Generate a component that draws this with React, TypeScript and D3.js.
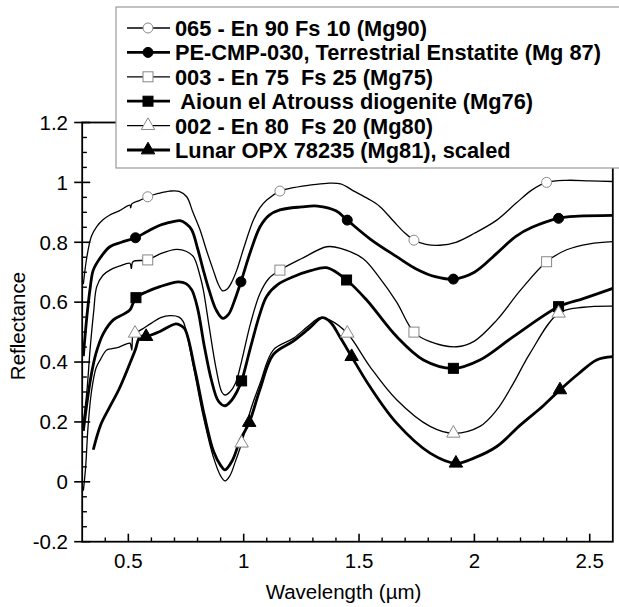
import React from "react";
import * as d3 from "d3";

// ---------- data (wavelength µm, reflectance) ----------
const s065: [number, number][] = [
  [0.305, 0.66], [0.32, 0.75], [0.34, 0.82], [0.363, 0.852], [0.39, 0.875], [0.42, 0.891], [0.46, 0.905],
  [0.507, 0.924], [0.51, 0.915], [0.515, 0.928], [0.55, 0.94], [0.584, 0.952], [0.63, 0.963], [0.68, 0.971],
  [0.72, 0.97], [0.753, 0.952], [0.78, 0.9], [0.811, 0.841], [0.84, 0.77], [0.868, 0.707], [0.89, 0.66],
  [0.909, 0.638], [0.93, 0.645], [0.95, 0.67], [0.97, 0.707], [1.0, 0.78], [1.042, 0.874], [1.07, 0.915],
  [1.1, 0.941], [1.157, 0.971], [1.2, 0.98], [1.28, 0.99], [1.36, 0.997], [1.42, 0.995], [1.48, 0.97],
  [1.54, 0.945], [1.591, 0.919], [1.65, 0.87], [1.7, 0.83], [1.738, 0.807], [1.79, 0.793], [1.851, 0.79],
  [1.92, 0.8], [2.0, 0.83], [2.097, 0.874], [2.18, 0.93], [2.25, 0.975], [2.313, 1.0], [2.4, 1.007],
  [2.5, 1.005], [2.6, 1.003],
];
const sPE: [number, number][] = [
  [0.305, 0.42], [0.32, 0.55], [0.335, 0.65], [0.348, 0.707], [0.38, 0.75], [0.42, 0.785], [0.47, 0.8],
  [0.531, 0.815], [0.58, 0.835], [0.637, 0.857], [0.69, 0.868], [0.724, 0.872], [0.75, 0.862], [0.775, 0.841],
  [0.8, 0.78], [0.825, 0.707], [0.85, 0.64], [0.88, 0.575], [0.909, 0.546], [0.935, 0.56], [0.96, 0.605],
  [0.988, 0.668], [1.03, 0.77], [1.071, 0.852], [1.11, 0.89], [1.157, 0.908], [1.25, 0.918], [1.32, 0.921],
  [1.4, 0.905], [1.449, 0.874], [1.55, 0.81], [1.663, 0.752], [1.75, 0.71], [1.83, 0.685], [1.909, 0.677],
  [2.0, 0.7], [2.097, 0.763], [2.18, 0.82], [2.25, 0.85], [2.365, 0.88], [2.45, 0.887], [2.6, 0.89],
];
const s003: [number, number][] = [
  [0.305, 0.2], [0.32, 0.3], [0.335, 0.45], [0.35, 0.57], [0.363, 0.652], [0.39, 0.69], [0.42, 0.707],
  [0.46, 0.72], [0.507, 0.73], [0.513, 0.712], [0.52, 0.735], [0.584, 0.741], [0.64, 0.762], [0.71, 0.776],
  [0.75, 0.77], [0.782, 0.752], [0.81, 0.69], [0.825, 0.641], [0.85, 0.52], [0.88, 0.38], [0.905, 0.3],
  [0.919, 0.29], [0.94, 0.3], [0.965, 0.33], [0.99, 0.4], [1.03, 0.53], [1.071, 0.63], [1.11, 0.68],
  [1.157, 0.707], [1.25, 0.745], [1.36, 0.785], [1.42, 0.78], [1.518, 0.745], [1.59, 0.68], [1.663, 0.6],
  [1.738, 0.5], [1.808, 0.468], [1.923, 0.451], [2.0, 0.47], [2.097, 0.54], [2.2, 0.64], [2.313, 0.735],
  [2.4, 0.775], [2.5, 0.795], [2.6, 0.802],
];
const sAioun: [number, number][] = [
  [0.305, 0.17], [0.32, 0.26], [0.34, 0.36], [0.36, 0.43], [0.392, 0.496], [0.435, 0.541], [0.48, 0.56],
  [0.507, 0.574], [0.533, 0.615], [0.58, 0.635], [0.637, 0.652], [0.717, 0.668], [0.75, 0.662], [0.775, 0.641],
  [0.8, 0.58], [0.83, 0.45], [0.86, 0.34], [0.89, 0.27], [0.919, 0.254], [0.945, 0.27], [0.97, 0.3],
  [0.991, 0.337], [1.03, 0.45], [1.07, 0.56], [1.1, 0.62], [1.15, 0.66], [1.215, 0.685], [1.29, 0.705],
  [1.36, 0.715], [1.446, 0.674], [1.533, 0.607], [1.663, 0.485], [1.779, 0.407], [1.909, 0.379],
  [2.024, 0.407], [2.169, 0.485], [2.365, 0.585], [2.472, 0.612], [2.6, 0.646],
];
const s002: [number, number][] = [
  [0.305, -0.03], [0.315, 0.05], [0.325, 0.18], [0.34, 0.3], [0.36, 0.38], [0.38, 0.41], [0.406, 0.44],
  [0.43, 0.445], [0.46, 0.45], [0.49, 0.46], [0.507, 0.463], [0.515, 0.44], [0.52, 0.49], [0.529, 0.496],
  [0.56, 0.51], [0.6, 0.53], [0.64, 0.548], [0.681, 0.555], [0.72, 0.55], [0.738, 0.535], [0.782, 0.385],
  [0.825, 0.218], [0.868, 0.084], [0.9, 0.02], [0.919, 0.003], [0.94, 0.02], [0.965, 0.07], [0.991, 0.129],
  [1.03, 0.24], [1.071, 0.329], [1.128, 0.44], [1.215, 0.479], [1.28, 0.52], [1.331, 0.548], [1.374, 0.54],
  [1.449, 0.496], [1.547, 0.385], [1.663, 0.274], [1.808, 0.185], [1.909, 0.162], [2.024, 0.185],
  [2.097, 0.24], [2.169, 0.329], [2.241, 0.429], [2.365, 0.563], [2.472, 0.583], [2.6, 0.587],
];
const sLunar: [number, number][] = [
  [0.348, 0.107], [0.38, 0.19], [0.42, 0.251], [0.46, 0.31], [0.507, 0.396], [0.53, 0.44], [0.551, 0.485],
  [0.577, 0.485], [0.637, 0.502], [0.702, 0.527], [0.725, 0.523], [0.745, 0.51], [0.79, 0.37], [0.83, 0.22],
  [0.87, 0.1], [0.9, 0.055], [0.919, 0.04], [0.95, 0.07], [0.985, 0.14], [1.024, 0.198], [1.071, 0.31],
  [1.128, 0.425], [1.215, 0.47], [1.28, 0.51], [1.34, 0.548], [1.374, 0.535], [1.42, 0.48], [1.468, 0.418],
  [1.547, 0.318], [1.663, 0.196], [1.808, 0.096], [1.92, 0.062], [2.0, 0.08], [2.097, 0.118], [2.2, 0.19],
  [2.3, 0.255], [2.371, 0.307], [2.45, 0.36], [2.53, 0.407], [2.6, 0.418],
];

const markers065 = [0.584, 1.157, 1.738, 2.313];
const markersPE = [0.531, 0.988, 1.449, 1.909, 2.365];
const markers003 = [0.584, 1.157, 1.738, 2.313];
const markersAioun = [0.533, 0.991, 1.446, 1.909, 2.365];
const markers002 = [0.529, 0.991, 1.449, 1.909, 2.365];
const markersLunar = [0.577, 1.024, 1.468, 1.92, 2.371];

const legendLabels = [
  "065 - En 90 Fs 10 (Mg90)",
  "PE-CMP-030, Terrestrial Enstatite (Mg 87)",
  "003 - En 75  Fs 25 (Mg75)",
  " Aioun el Atrouss diogenite (Mg76)",
  "002 - En 80  Fs 20 (Mg80)",
  "Lunar OPX 78235 (Mg81), scaled",
];
const xTicks = [0.5, 1, 1.5, 2, 2.5];
const yTicks = [-0.2, 0, 0.2, 0.4, 0.6, 0.8, 1, 1.2];

type Shape = "circle" | "square" | "triangle";
const series = [
  { data: s065, marks: markers065, thick: false, shape: "circle" as Shape, filled: false },
  { data: sPE, marks: markersPE, thick: true, shape: "circle" as Shape, filled: true },
  { data: s003, marks: markers003, thick: false, shape: "square" as Shape, filled: false },
  { data: sAioun, marks: markersAioun, thick: true, shape: "square" as Shape, filled: true },
  { data: s002, marks: markers002, thick: false, shape: "triangle" as Shape, filled: false },
  { data: sLunar, marks: markersLunar, thick: true, shape: "triangle" as Shape, filled: true },
];

const W = 619, H = 607;
const FONT = "'Liberation Sans', Arial, Helvetica, sans-serif";

const x = d3.scaleLinear().domain([0.3, 2.6]).range([82.2, 612.8]);
const y = d3.scaleLinear().domain([-0.2, 1.2]).range([541.7, 122.5]);

function interp(data: [number, number][], wx: number) {
  const i = d3.bisector((d: [number, number]) => d[0]).left(data, wx);
  if (i <= 0) return data[0][1];
  if (i >= data.length) return data[data.length - 1][1];
  const a = data[i - 1], b = data[i];
  const t = (wx - a[0]) / (b[0] - a[0]);
  return a[1] + t * (b[1] - a[1]);
}

const triPath = d3.symbol(d3.symbolTriangle, 78)() as string;

function Marker({ cx, cy, shape, filled }: { cx: number; cy: number; shape: Shape; filled: boolean }) {
  const fill = filled ? "#000" : "#fff";
  const stroke = filled ? "#000" : "#888";
  if (shape === "circle") return <circle cx={cx} cy={cy} r={5} fill={fill} stroke={stroke} strokeWidth={1} />;
  if (shape === "square")
    return <rect x={cx - 5} y={cy - 5} width={10} height={10} fill={fill} stroke={stroke} strokeWidth={1} />;
  return <path d={triPath} transform={`translate(${cx},${cy})`} fill={fill} stroke={stroke} strokeWidth={1} />;
}

export default function App() {
  const line = d3
    .line<[number, number]>()
    .x((d) => x(d[0]))
    .y((d) => y(d[1]))
    .curve(d3.curveCatmullRom.alpha(0.5));

  const x0 = x(0.3), x1 = x(2.6), yTop = y(1.2), yBot = y(-0.2);
  const xMinor = d3.range(4, 26).map((v) => v / 10).filter((v) => Math.abs(v * 2 - Math.round(v * 2)) > 1e-6);
  const yMinor = d3.range(-4, 25).map((v) => v / 20).filter((v) => Math.abs(v * 5 - Math.round(v * 5)) > 1e-6);

  const legX = 116, legY = 7, legBottom = 168;
  const rowY = (i: number) => 28 + i * 24.4;

  return (
    <svg width={W} height={H} style={{ position: "absolute", left: 0, top: 0, background: "#fff" }} fontFamily={FONT}>
      <rect width={W} height={H} fill="#fff" />
      {/* curves */}
      {series.map((s, i) => (
        <path key={i} d={line(s.data) as string} fill="none" stroke="#000" strokeWidth={s.thick ? 2.8 : 1.3} strokeLinejoin="round" />
      ))}
      {/* markers */}
      {series.map((s, i) =>
        s.marks.map((m, j) => (
          <Marker key={`${i}-${j}`} cx={x(m)} cy={y(interp(s.data, m))} shape={s.shape} filled={s.filled} />
        ))
      )}
      {/* frame */}
      <rect x={x0} y={yTop} width={x1 - x0} height={yBot - yTop} fill="none" stroke="#000" strokeWidth={1.8} />
      {/* y ticks */}
      {yTicks.map((t) => (
        <g key={`yt${t}`}>
          <line x1={x0 - 8} x2={x0 + 8} y1={y(t)} y2={y(t)} stroke="#000" strokeWidth={1.6} />
          <text x={68} y={y(t) + 7.3} textAnchor="end" fontSize={20.5} fill="#000">{String(t)}</text>
        </g>
      ))}
      {yMinor.map((t) => (
        <line key={`ym${t}`} x1={x0} x2={x0 + 4.7} y1={y(t)} y2={y(t)} stroke="#000" strokeWidth={1.4} />
      ))}
      {/* x ticks */}
      {xTicks.map((t) => (
        <g key={`xt${t}`}>
          <line x1={x(t)} x2={x(t)} y1={yBot} y2={yBot - 8} stroke="#000" strokeWidth={1.6} />
          <text x={x(t)} y={568} textAnchor="middle" fontSize={20.5} fill="#000">{String(t)}</text>
        </g>
      ))}
      {xMinor.map((t) => (
        <line key={`xm${t}`} x1={x(t)} x2={x(t)} y1={yBot} y2={yBot - 4.3} stroke="#000" strokeWidth={1.4} />
      ))}
      {/* axis titles */}
      <text x={(x0 + x1) / 2 - 4} y={599} textAnchor="middle" fontSize={20.5} fill="#000">Wavelength (µm)</text>
      <text transform={`translate(25,326) rotate(-90)`} textAnchor="middle" fontSize={20.5} fill="#000">Reflectance</text>
      {/* legend */}
      <rect x={legX} y={legY} width={W - legX + 20} height={legBottom - legY} fill="#fff" stroke="#999" strokeWidth={1.2} />
      {series.map((s, i) => (
        <g key={`lg${i}`}>
          <line x1={127} x2={170} y1={rowY(i)} y2={rowY(i)} stroke="#000" strokeWidth={s.thick ? 2.8 : 1.3} />
          <Marker cx={148} cy={rowY(i)} shape={s.shape} filled={s.filled} />
          <text x={175} y={rowY(i) + 8} fontSize={21.8} fontWeight="bold" fill="#000" style={{ whiteSpace: "pre" }}>
            {legendLabels[i]}
          </text>
        </g>
      ))}
    </svg>
  );
}
